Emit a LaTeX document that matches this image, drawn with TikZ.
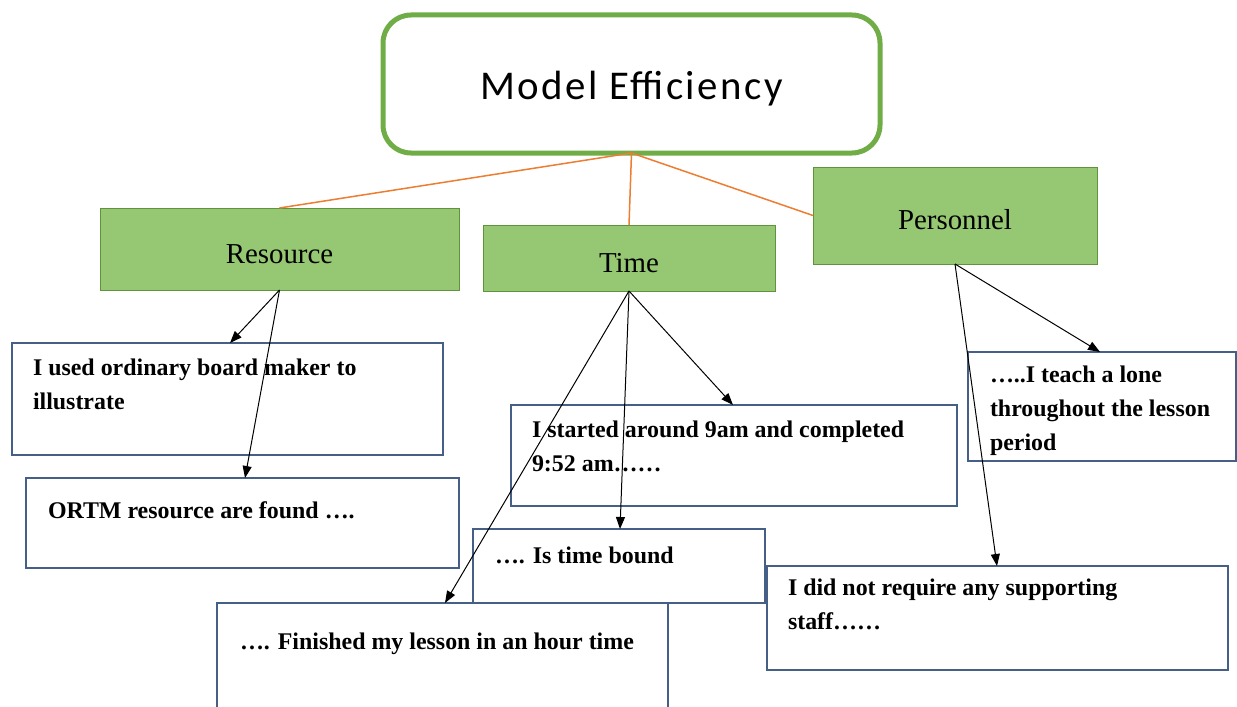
\documentclass[tikz,border=0pt]{standalone}
\usepackage{fontspec}
\setmainfont{Liberation Serif}
\newfontfamily\headfont[LetterSpace=6]{Carlito}
\usetikzlibrary{arrows.meta,calc}
\definecolor{boxgreen}{RGB}{150,200,115}
\definecolor{edgegreen}{RGB}{112,173,71}
\definecolor{linkorange}{RGB}{237,125,49}
\definecolor{noteblue}{RGB}{70,95,135}

\begin{document}
\begin{tikzpicture}[x=1bp,y=-1bp,
                every node/.style={inner sep=0pt, outer sep=0pt},
                topbox/.style={draw=edgegreen, line width=5bp, rounded corners=28bp, fill=white, anchor=north west,
                               font=\headfont\fontsize{41}{44}\selectfont, text height=32bp, text depth=0pt},
                catbox/.style={draw=edgegreen!85!black, line width=0.8bp, fill=boxgreen, anchor=north west,
                               font=\fontsize{29}{30}\selectfont, text height=28bp, text depth=0pt},
                notebox/.style={draw=noteblue, line width=1.3bp, fill=white, anchor=north west},
                note/.style={anchor=north west, align=left, font=\fontsize{24}{34}\selectfont\bfseries},
                link/.style={draw=linkorange, line width=1.5bp},
                arr/.style={-{Triangle[length=12bp,width=9bp]}, line width=1bp}]
    \useasboundingbox (0,0) rectangle (1237,707);
    \clip (0,0) rectangle (1237,707);

    \node[topbox, minimum width=497bp, minimum height=138bp] (model) at (383,15) {Model Efficiency};

    \node[catbox, minimum width=359bp, minimum height=82bp] (res) at (100,208) {Resource};
    \node[catbox, minimum width=292bp, minimum height=66bp] (time) at (483,225) {Time};
    \node[catbox, minimum width=284bp, minimum height=97bp] (pers) at (813,167) {Personnel};

    \draw[link] (model.south) -- (res.north);
    \draw[link] (model.south) -- (time.north);
    \draw[link] (model.south) -- (pers.west);

    % resource notes
    \node[notebox, minimum width=431bp, minimum height=112bp] (board) at (12,343) {};
    \node[note] (boardtxt) at ([shift={(21bp,-16bp)}]board.north west) {I used ordinary board maker to\\illustrate};
    \node[notebox, minimum width=433bp, minimum height=90bp] (found) at (26,478) {};
    \node[note] (foundtxt) at ([shift={(22bp,-24bp)}]found.north west) {ORTM resource are found ….};

    % time notes
    \node[notebox, minimum width=446bp, minimum height=101bp] (start) at (511,405) {};
    \node[note] (starttxt) at ([shift={(21bp,-16bp)}]start.north west) {I started around 9am and completed\\9:52 am……};
    \node[notebox, minimum width=292bp, minimum height=74bp] (bound) at (473,529) {};
    \node[note] (boundtxt) at ([shift={(22bp,-18bp)}]bound.north west) {…. Is time bound};
    \node[notebox, minimum width=451bp, minimum height=120bp] (finish) at (217,603) {};
    \node[note] (finishtxt) at ([shift={(23bp,-30bp)}]finish.north west) {…. Finished my lesson in an hour time};

    % personnel notes
    \node[notebox, minimum width=268bp, minimum height=109bp] (alone) at (968,352) {};
    \node[note] (alonetxt) at ([shift={(22bp,-14bp)}]alone.north west) {…..I teach a lone\\throughout the lesson\\period};
    \node[notebox, minimum width=461bp, minimum height=104bp] (staff) at (767,566) {};
    \node[note] (stafftxt) at ([shift={(21bp,-13bp)}]staff.north west) {I did not require any supporting\\staff……};

    \draw[arr] (res.south) -- ([xshift=218bp]board.north west);
    \draw[arr] (res.south) -- ([xshift=219bp]found.north west);
    \draw[arr] (time.south) -- ([xshift=222bp]start.north west);
    \draw[arr] (time.south) -- ([xshift=147bp]bound.north west);
    \draw[arr] (time.south) -- ([xshift=228bp]finish.north west);
    \draw[arr] (pers.south) -- ([xshift=132bp]alone.north west);
    \draw[arr] (pers.south) -- ([xshift=230bp]staff.north west);
\end{tikzpicture}
\end{document}
